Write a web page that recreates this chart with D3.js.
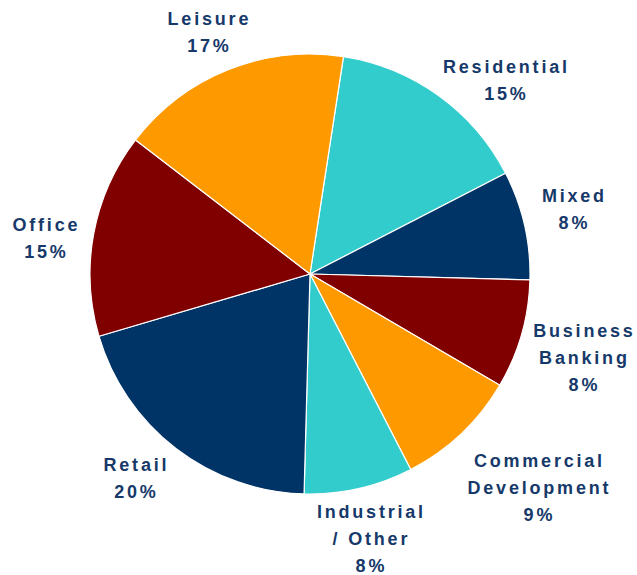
<!DOCTYPE html>
<html>
<head>
<meta charset="utf-8">
<script src="https://cdn.jsdelivr.net/npm/d3@7"></script>
<style>
  html, body { margin: 0; padding: 0; background: #fff; }
  svg { display: block; }
  .lbl { font-family: "Liberation Sans", Arial, sans-serif; font-weight: bold; font-size: 18px; letter-spacing: 2.8px; fill: #16396a; }
</style>
</head>
<body>
<svg id="chart" width="637" height="575"></svg>
<script>
// Sector mix, in clockwise order from the top
const categories = ["Residential", "Mixed", "Business Banking", "Commercial Development",
                    "Industrial / Other", "Retail", "Office", "Leisure"];
const shares = [15, 8, 8, 9, 8, 20, 15, 17];
const labelLines = [
  ["Residential"], ["Mixed"], ["Business", "Banking"], ["Commercial", "Development"],
  ["Industrial", "/ Other"], ["Retail"], ["Office"], ["Leisure"]
];
const sliceColors = ["#33cccc", "#003366", "#800000", "#ff9900",
                     "#33cccc", "#003366", "#800000", "#ff9900"];
// Where each label block is centred (x) and where its first line sits (baseline y)
const labelAnchors = [
  [505, 73], [573, 202], [583, 337], [538, 467],
  [370, 518], [135, 471], [45, 231], [208, 25]
];

const svg = d3.select("#chart");
const cx = 310, cy = 274, radius = 220;
const startDeg = 8.75;

const pie = d3.pie()
  .value(d => d.value)
  .sort(null)
  .startAngle(startDeg * Math.PI / 180)
  .endAngle((startDeg + 360) * Math.PI / 180);

const data = categories.map((c, i) => ({ name: c, value: shares[i], color: sliceColors[i], lines: labelLines[i], anchor: labelAnchors[i] }));
const arcs = pie(data);
const arc = d3.arc().innerRadius(0).outerRadius(radius);

const g = svg.append("g").attr("transform", `translate(${cx},${cy})`);
g.selectAll("path")
  .data(arcs)
  .join("path")
  .attr("d", arc)
  .attr("fill", d => d.data.color)
  .attr("stroke", "#ffffff")
  .attr("stroke-width", 1.2)
  .attr("stroke-linejoin", "round");

const lineH = 27;
const labels = svg.selectAll("text.lbl")
  .data(arcs)
  .join("text")
  .attr("class", "lbl")
  .attr("text-anchor", "middle");

labels.each(function(d) {
  const t = d3.select(this);
  const [x, y] = d.data.anchor;
  const rows = d.data.lines.concat([d.data.value + "%"]);
  rows.forEach((r, i) => {
    t.append("tspan")
      .attr("x", x + 1.4)
      .attr("y", y + i * lineH)
      .text(r);
  });
});
</script>
</body>
</html>
